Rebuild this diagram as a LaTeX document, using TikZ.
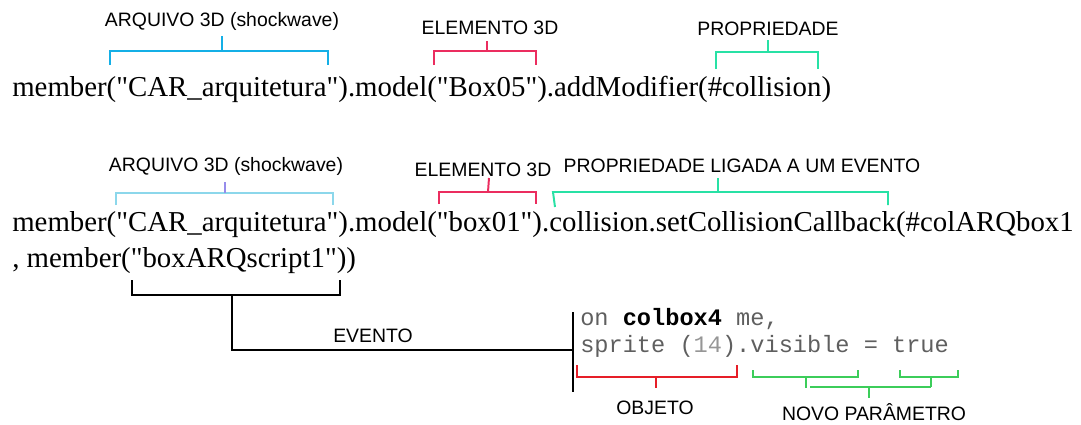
\documentclass[tikz,border=0pt]{standalone}
\usepackage{fontspec}
\newfontfamily\lblfam{Liberation Sans}
\newfontfamily\srcfam{Liberation Serif}
\newfontfamily\codefam{Liberation Mono}
\newcommand{\lblfont}{\lblfam\fontsize{13.8}{16}\selectfont}
\newcommand{\srcfont}{\srcfam\fontsize{20.5}{24}\selectfont}
\newcommand{\codefont}{\codefam\fontsize{16.8}{20}\selectfont}

\definecolor{arqblue}{RGB}{20,175,230}
\definecolor{arqlight}{RGB}{140,215,235}
\definecolor{arqtick}{RGB}{150,140,235}
\definecolor{elemred}{RGB}{235,45,95}
\definecolor{propgreen}{RGB}{40,225,165}
\definecolor{objred}{RGB}{230,30,40}
\definecolor{parmgreen}{RGB}{60,205,90}
\definecolor{codegray}{RGB}{95,95,95}
\definecolor{numgray}{RGB}{150,150,150}

\tikzset{
    lbl/.style={font=\lblfont, inner sep=0pt, text height=9.9pt, text depth=0pt},
    src/.style={font=\srcfont, inner sep=0pt, anchor=base west},
    code/.style={font=\codefont, text=codegray, inner sep=0pt, anchor=base west},
    brk/.style={line width=1.4pt},
}

\begin{document}
\begin{tikzpicture}[x=0.025cm, y=-0.025cm]
    \useasboundingbox (0,0) rectangle (1081,424);
    % first call
    \node[src] (call1) at (12,96) {member("CAR\_arquitetura").model("Box05").addModifier(\#collision)};
    \node[lbl] (arq1) at (222,20) {ARQUIVO 3D (shockwave)};
    \node[lbl] (elem1) at (490,28) {ELEMENTO 3D};
    \node[lbl] (prop1) at (768,29) {PROPRIEDADE};
    \draw [brk, arqblue] (110,65) -- (110,51) -- (328,51) -- (328,65);
    \draw [brk, arqblue] (222,51) -- (222,36);
    \draw [brk, elemred] (434,65) -- (434,51) -- (536,51) -- (536,65);
    \draw [brk, elemred] (487,51) -- (487,41);
    \draw [brk, propgreen] (716,69) -- (716,52) -- (818,52) -- (818,69);
    \draw [brk, propgreen] (768,52) -- (768,40);
    % second call
    \node[src] (call2) at (12,231) {member("CAR\_arquitetura").model("box01").collision.setCollisionCallback(\#colARQbox1};
    \node[src] (call3) at (12,267) {, member("boxARQscript1"))};
    \node[lbl] (arq2) at (226,165) {ARQUIVO 3D (shockwave)};
    \node[lbl] (elem2) at (483,170) {ELEMENTO 3D};
    \node[lbl] (prop2) at (742,166) {PROPRIEDADE LIGADA A UM EVENTO};
    \draw [brk, arqlight] (116,205) -- (116,193) -- (333,193) -- (333,205);
    \draw [brk, arqtick] (225,193) -- (225,182);
    \draw [brk, elemred] (439,204) -- (439,192) -- (536,192) -- (536,204);
    \draw [brk, elemred] (488,192) -- (489,178);
    \draw [brk, propgreen] (555,207) -- (553,192) -- (888,192) -- (888,205);
    \draw [brk, propgreen] (718,192) -- (718,178);
    % event
    \draw [brk] (132,280) -- (132,295) -- (340,295) -- (340,280);
    \coordinate (evbar) at (573,350);
    \draw [brk] (232,295) -- (232,350) -- (evbar);
    \draw [brk] (573,312) -- (573,392);
    \node[lbl] (evento) at (373,336) {EVENTO};
    \node[code] (evt1) at (580,325) {on \textcolor{black}{\bfseries colbox4} me,};
    \node[code] (evt2) at (580,352) {sprite (\textcolor{numgray}{14}).visible = true};
    \draw [brk, objred] (577,365) -- (577,377) -- (737,377) -- (737,365);
    \draw [brk, objred] (656,377) -- (656,388);
    \node[lbl] (objeto) at (655,408) {OBJETO};
    \draw [brk, parmgreen] (753,370) -- (753,377) -- (858,377) -- (858,370);
    \draw [brk, parmgreen] (806,377) -- (806,388);
    \draw [brk, parmgreen] (900,370) -- (900,377) -- (958,377) -- (958,370);
    \draw [brk, parmgreen] (931,377) -- (931,387);
    \draw [brk, parmgreen] (810,387) -- (931,387);
    \draw [brk, parmgreen] (869,387) -- (869,398);
    \node[lbl] (novo) at (874,414) {NOVO PARÂMETRO};
\end{tikzpicture}
\end{document}
